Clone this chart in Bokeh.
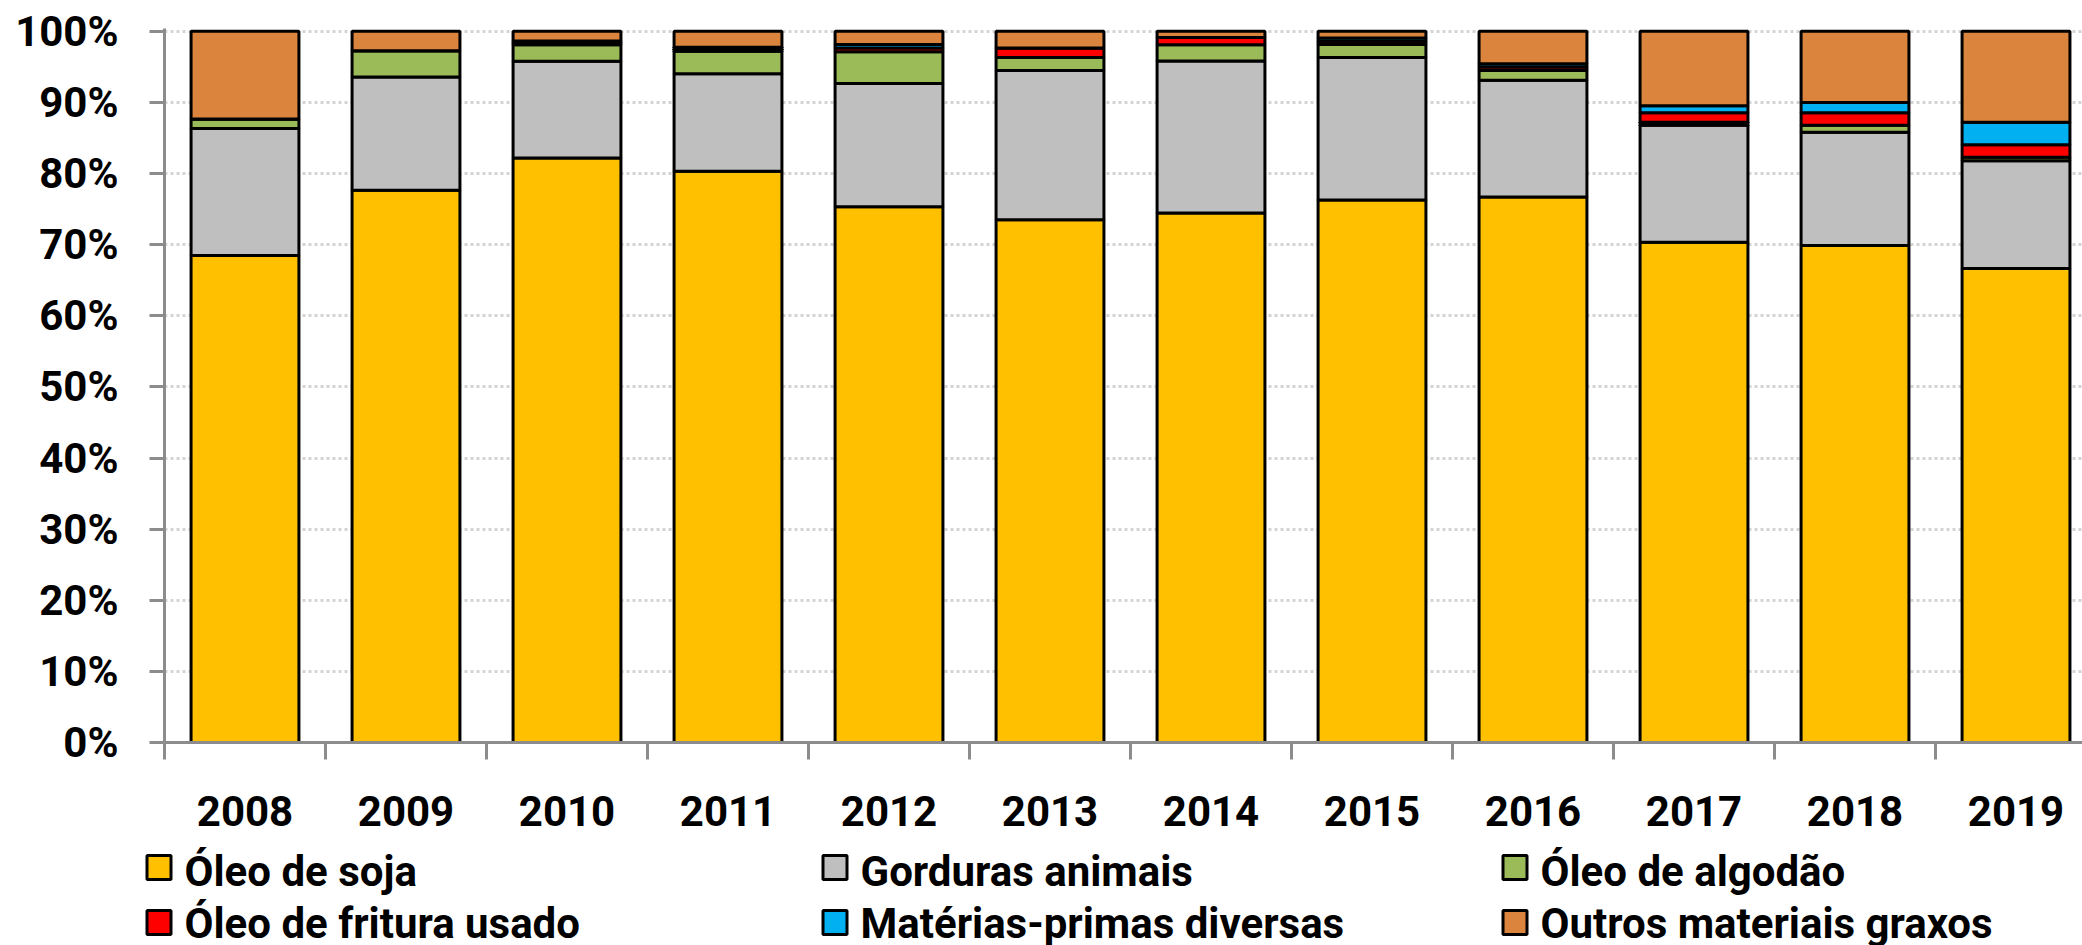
from bokeh.plotting import figure
from bokeh.layouts import column
from bokeh.models import Range1d, FixedTicker, PrintfTickFormatter, ColumnDataSource
from bokeh.core.properties import value
from bokeh.embed import file_html
from bokeh.resources import INLINE

# Biodiesel feedstock shares (%) per year
years = ["2008", "2009", "2010", "2011", "2012", "2013",
         "2014", "2015", "2016", "2017", "2018", "2019"]
oleo_soja = [68.47, 77.67, 82.19, 80.33, 75.35, 73.49, 74.47, 76.28, 76.70, 70.33, 69.90, 66.65]
gorduras_animais = [17.86, 15.91, 13.62, 13.72, 17.32, 21.02, 21.35, 20.05, 16.42, 16.47, 15.91, 15.15]
oleo_algodao = [1.34, 3.68, 2.31, 3.16, 4.47, 1.82, 2.30, 1.81, 1.39, 0.40, 0.98, 0.50]
oleo_fritura = [0.00, 0.00, 0.26, 0.28, 0.51, 1.34, 1.00, 0.47, 0.47, 1.36, 1.77, 1.75]
materias_diversas = [0.00, 0.00, 0.25, 0.28, 0.51, 0.00, 0.00, 0.46, 0.46, 0.97, 1.44, 3.15]
outros_graxos = [12.33, 2.74, 1.37, 2.23, 1.84, 2.33, 0.88, 0.93, 4.56, 10.47, 10.00, 12.80]

series_labels = ["Óleo de soja", "Gorduras animais", "Óleo de algodão",
                 "Óleo de fritura usado", "Matérias-primas diversas", "Outros materiais graxos"]
series_keys = ["soja", "gorduras", "algodao", "fritura", "diversas", "outros"]
series_colors = ["#FFC000", "#BFBFBF", "#9BBB59", "#FF0000", "#00B0F0", "#DB843D"]

n = len(years)
source = ColumnDataSource(dict(
    x=list(range(n)),
    soja=oleo_soja,
    gorduras=gorduras_animais,
    algodao=oleo_algodao,
    fritura=oleo_fritura,
    diversas=materias_diversas,
    outros=outros_graxos,
))

AXIS_GRAY = "#8C8C8C"
FONT = "Roboto"

# ---- main stacked-bar chart ----
p = figure(width=2082, height=835, output_backend="svg", toolbar_location=None,
           x_range=Range1d(-0.5, 11.413), y_range=Range1d(0, 100.4),
           min_border_left=164, min_border_right=0, min_border_top=28, min_border_bottom=93)
p.outline_line_color = None

renderers = p.vbar_stack(series_keys, x="x", width=0.67, source=source,
                         fill_color=series_colors, line_color="black", line_width=3)

# x axis: year labels at bar centers, tick marks between categories
xa = p.xaxis[0]
xa.ticker = FixedTicker(ticks=list(range(n)), minor_ticks=[i - 0.5 for i in range(n + 1)])
xa.major_label_overrides = {i: y for i, y in enumerate(years)}
xa.major_tick_line_color = None
xa.major_tick_out = 0
xa.major_tick_in = 0
xa.minor_tick_line_color = AXIS_GRAY
xa.minor_tick_line_width = 3
xa.minor_tick_out = 17
xa.minor_tick_in = 0
xa.axis_line_color = AXIS_GRAY
xa.axis_line_width = 3
xa.major_label_standoff = 36
xa.major_label_text_font = FONT
xa.major_label_text_font_style = "bold"
xa.major_label_text_font_size = "42px"
xa.major_label_text_color = "black"

# y axis: percentages
ya = p.yaxis[0]
ya.ticker = FixedTicker(ticks=list(range(0, 101, 10)))
ya.formatter = PrintfTickFormatter(format="%d%%")
ya.major_tick_line_color = AXIS_GRAY
ya.major_tick_line_width = 3
ya.major_tick_out = 15
ya.major_tick_in = 0
ya.minor_tick_line_color = None
ya.axis_line_color = AXIS_GRAY
ya.axis_line_width = 3
ya.major_label_standoff = 31
ya.major_label_text_font = FONT
ya.major_label_text_font_style = "bold"
ya.major_label_text_font_size = "42px"
ya.major_label_text_color = "black"

p.xgrid.visible = False
p.ygrid.ticker = FixedTicker(ticks=list(range(10, 101, 10)))
p.ygrid.grid_line_color = "#D4D4D4"
p.ygrid.grid_line_width = 3
p.ygrid.grid_line_dash = "3 3"

# ---- legend strip: three columns of two rows, in page pixels ----
leg = figure(width=2082, height=110, output_backend="svg", toolbar_location=None,
             x_axis_location=None, y_axis_location=None,
             x_range=Range1d(0, 2082), y_range=Range1d(945, 835),
             min_border=0, min_border_left=0, min_border_right=0,
             min_border_top=0, min_border_bottom=0)
leg.frame_align = False
leg.grid.visible = False
leg.outline_line_color = None

col_text_x = [184, 860, 1540]
row_center = [867, 922]
row_text_y = [871, 923]
sq_x, sq_y, txt_x, txt_y = [], [], [], []
for i in range(len(series_labels)):
    r, c = divmod(i, 3)
    sq_x.append(col_text_x[c] - 25.5)
    sq_y.append(row_center[r])
    txt_x.append(col_text_x[c])
    txt_y.append(row_text_y[r])

leg.rect(x=sq_x, y=sq_y, width=24, height=24, fill_color=series_colors,
         line_color="black", line_width=3)
leg.text(x=txt_x, y=txt_y, text=series_labels, text_baseline="middle", text_align="left",
         text_font=value(FONT), text_font_style="bold", text_font_size="42px",
         text_color="black")

layout = column(p, leg, spacing=0)
open("out.html", "w").write(file_html(layout, INLINE))
